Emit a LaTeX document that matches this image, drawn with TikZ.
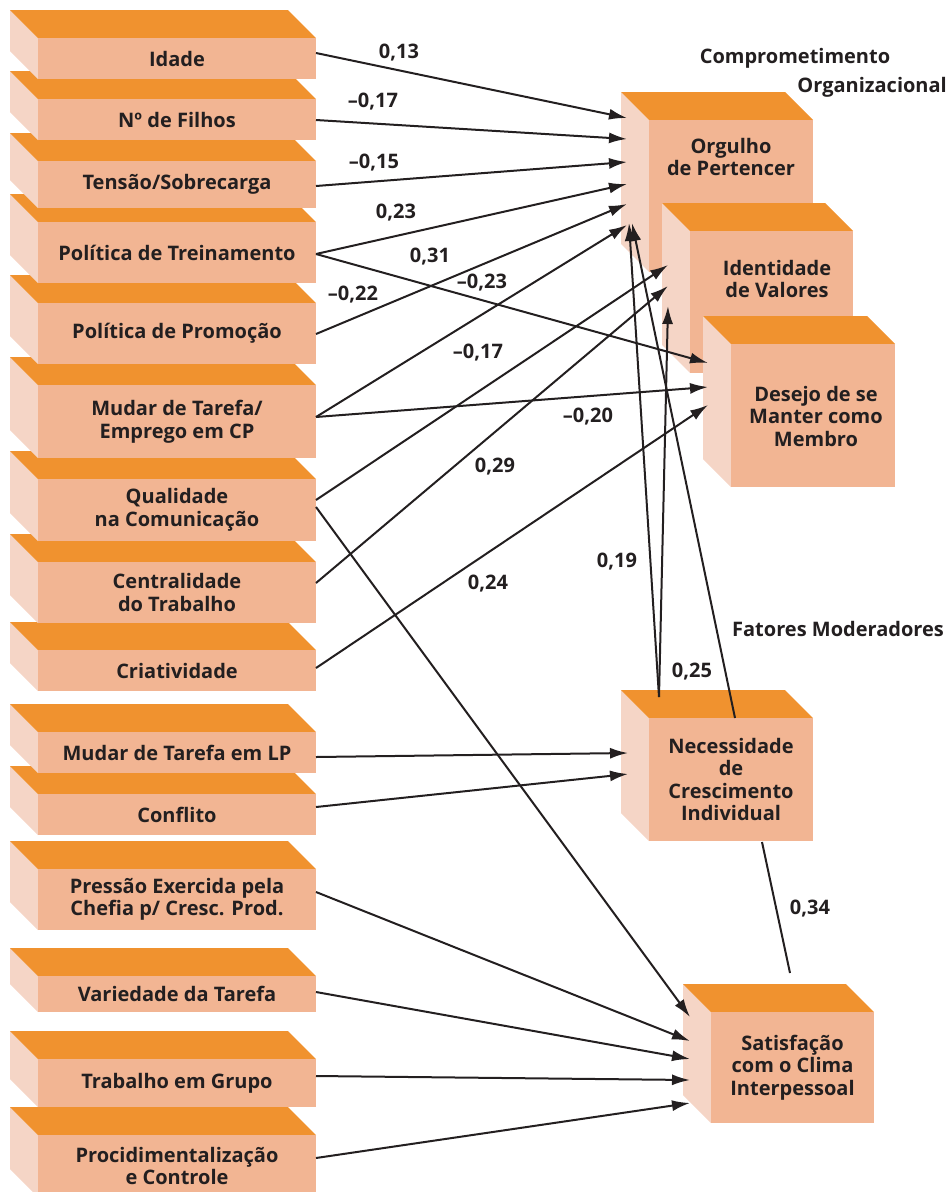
\documentclass[tikz,border=0pt]{standalone}
\usepackage{fontspec}
\setmainfont{Open Sans}
\usetikzlibrary{arrows.meta,calc}
\definecolor{topc}{HTML}{F0922F}
\definecolor{frontc}{HTML}{F2B593}
\definecolor{sidec}{HTML}{F5D5C6}
\definecolor{inkc}{HTML}{231F20}
\newcommand{\mkbox}[6]{%
  \fill[sidec] (#2,#3) -- ++(-28,-28) -- ++(0,#5) -- ++(28,28) -- cycle;
  \fill[topc] (#2,#3) -- ++(-28,-28) -- ++(#4,0) -- ++(28,28) -- cycle;
  \node[frontbox, minimum width=#4pt, minimum height=#5pt] (#1) at ({#2+#4/2},{#3+#5/2}) {#6};
}
\tikzset{
  frontbox/.style={fill=frontc, inner sep=0pt, outer sep=0pt, align=center, text=inkc,
    font=\bfseries\fontsize{20}{22.5}\selectfont},
  boxtext/.style={inner sep=0pt, align=center, text=inkc, font=\bfseries\fontsize{20}{22.5}\selectfont},
  lbl/.style={inner sep=0pt, text=inkc, font=\bfseries\fontsize{20}{22}\selectfont},
  arr/.style={draw=inkc, line width=2pt, -{Latex[length=18pt,width=11pt]}},
  plainline/.style={draw=inkc, line width=2pt}
}
\begin{document}
\begin{tikzpicture}[x=1pt,y=-1pt]
\useasboundingbox (0,0) rectangle (952,1192);
% right boxes
\mkbox{org}{649}{120}{164}{152}{}
\node[boxtext] (orgt) at (731,157) {Orgulho\\de Pertencer};
\mkbox{ident}{690}{231}{163}{142}{}
\node[boxtext] (identt) at (777,279) {Identidade\\de Valores};
\mkbox{desejo}{731}{344}{164}{143}{}
\node[boxtext] (desejot) at (816,416) {Desejo de se\\Manter como\\Membro};
\mkbox{neces}{649}{718}{164}{123}{Necessidade\\de\\Crescimento\\Individual}
\mkbox{satis}{711}{1012}{163}{111}{Satisfação\\com o Clima\\Interpessoal}
% left boxes, bottom to top
\mkbox{procid}{38}{1135}{278}{62}{Procidimentalização\\e Controle}
\mkbox{trab}{38}{1059}{278}{48}{Trabalho em Grupo}
\mkbox{varied}{38}{976}{278}{36}{Variedade da Tarefa}
\mkbox{press}{38}{869}{278}{61}{Pressão Exercida pela\\Chefia p/ Cresc. Prod.}
\mkbox{confl}{38}{794}{278}{41}{Conflito}
\mkbox{mudlp}{38}{732}{278}{41}{Mudar de Tarefa em LP}
\mkbox{criat}{38}{650}{278}{41}{Criatividade}
\mkbox{centr}{38}{562}{278}{61}{Centralidade\\do Trabalho}
\mkbox{qual}{38}{479}{278}{62}{Qualidade\\na Comunicação}
\mkbox{mudcp}{38}{385}{278}{73}{Mudar de Tarefa/\\Emprego em CP}
\mkbox{promo}{38}{303}{278}{61}{Política de Promoção}
\mkbox{trein}{38}{222}{278}{61}{Política de Treinamento}
\mkbox{tensao}{38}{161}{278}{47}{Tensão/Sobrecarga}
\mkbox{filhos}{38}{99}{278}{41}{Nº de Filhos}
\mkbox{idade}{38}{38}{278}{41}{Idade}
% titles
\node[lbl] (t1) at (795,58) {Comprometimento};
\node[lbl, anchor=east] (t2) at (947,87) {Organizacional};
\node[lbl] (t3) at (838,629) {Fatores Moderadores};
% arrows to Orgulho
\draw[arr] ($(idade.north east)+(0,15)$) -- ($(org.north west)+(-22,-2)$);
\draw[arr] ($(filhos.north east)+(0,21)$) -- ($(org.north west)+(-22,19)$);
\draw[arr] ($(tensao.north east)+(0,25)$) -- ($(org.north west)+(-22,42)$);
\draw[arr] ($(trein.north east)+(0,32)$) -- ($(org.north west)+(-22,64)$);
\draw[arr] ($(promo.north east)+(0,31)$) -- ($(org.north west)+(-22,84)$);
\draw[arr] ($(mudcp.north east)+(0,32)$) -- ($(org.north west)+(-22,105)$);
% arrows to Identidade
\draw[arr] ($(qual.north east)+(0,21)$) -- ($(ident.north west)+(-22,34)$);
\draw[arr] ($(centr.north east)+(0,21)$) -- ($(ident.north west)+(-22,55)$);
% arrows to Desejo
\draw[arr] ($(trein.north east)+(0,32)$) -- ($(desejo.north west)+(-23,19)$);
\draw[arr] ($(mudcp.north east)+(0,32)$) -- ($(desejo.north west)+(-23,43)$);
\draw[arr] ($(criat.north east)+(0,18)$) -- ($(desejo.north west)+(-23,61)$);
% arrows to Necessidade
\draw[arr] ($(mudlp.north east)+(0,25)$) -- ($(neces.north west)+(-21,35)$);
\draw[arr] ($(confl.north east)+(0,13)$) -- ($(neces.north west)+(-21,56)$);
% from Necessidade
\draw[arr] ($(neces.north west)+(10,-21)$) -- ($(org.north west)+(-20,103)$);
\draw[arr] ($(neces.north west)+(86,0)$) -- ($(org.north west)+(-17,103)$);
\draw[arr] ($(neces.north west)+(10,-21)$) -- ($(ident.north west)+(-22,75)$);
\draw[plainline] ($(neces.south west)+(113,1)$) -- ($(satis.north west)+(79,-39)$);
% arrows to Satisfacao
\draw[arr] ($(qual.north east)+(0,28)$) -- ($(satis.north west)+(-21,5)$);
\draw[arr] ($(press.north east)+(0,23)$) -- ($(satis.north west)+(-21,29)$);
\draw[arr] ($(varied.north east)+(0,16)$) -- ($(satis.north west)+(-21,47)$);
\draw[arr] ($(trab.north east)+(0,17)$) -- ($(satis.north west)+(-21,68)$);
\draw[arr] ($(procid.north east)+(0,23)$) -- ($(satis.north west)+(-21,91)$);
% coefficient labels
\node[lbl] (c1) at (399,53) {0,13};
\node[lbl] (c2) at (373,102) {–0,17};
\node[lbl] (c3) at (374,163) {–0,15};
\node[lbl] (c4) at (396,213) {0,23};
\node[lbl] (c5) at (430,257) {0,31};
\node[lbl] (c6) at (482,283) {–0,23};
\node[lbl] (c7) at (353,295) {–0,22};
\node[lbl] (c8) at (478,353) {–0,17};
\node[lbl] (c9) at (588,417) {–0,20};
\node[lbl] (c10) at (495,467) {0,29};
\node[lbl] (c11) at (488,584) {0,24};
\node[lbl] (c12) at (617,562) {0,19};
\node[lbl] (c13) at (692,672) {0,25};
\node[lbl] (c14) at (810,909) {0,34};
\end{tikzpicture}
\end{document}
